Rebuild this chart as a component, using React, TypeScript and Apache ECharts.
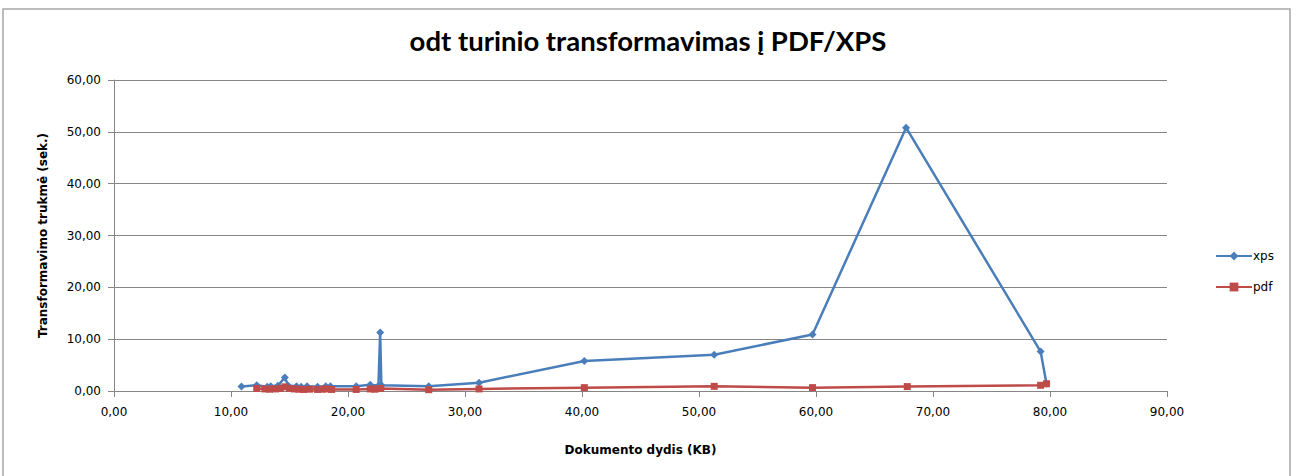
import React, { useEffect, useRef } from "react";
import * as echarts from "echarts";

const titleText = "odt turinio transformavimas į PDF/XPS";
const xAxisName = "Dokumento dydis (KB)";
const yAxisName = "Transformavimo trukmė (sek.)";

const xpsSize = [10.9, 12.2, 13.1, 13.4, 14.0, 14.6, 14.9, 15.6, 16.0, 16.5, 17.4, 18.1, 18.5, 20.7, 21.9, 22.6, 22.75, 22.85, 26.9, 31.2, 40.2, 51.3, 59.7, 67.7, 79.2, 79.7];
const xpsTime = [0.85, 1.1, 0.8, 0.9, 1.0, 2.6, 1.0, 0.9, 0.8, 0.9, 0.8, 0.9, 0.9, 0.9, 1.2, 1.0, 11.3, 1.1, 0.9, 1.6, 5.8, 7.0, 10.9, 50.8, 7.6, 1.4];

const pdfSize = [12.2, 12.9, 13.3, 13.8, 14.2, 14.6, 15.0, 15.4, 15.8, 16.2, 16.7, 17.4, 17.8, 18.2, 18.6, 20.7, 21.9, 22.3, 22.8, 26.9, 31.2, 40.2, 51.3, 59.7, 67.8, 79.2, 79.7];
const pdfTime = [0.5, 0.4, 0.35, 0.4, 0.5, 0.8, 0.5, 0.4, 0.35, 0.3, 0.35, 0.3, 0.35, 0.4, 0.3, 0.3, 0.4, 0.35, 0.5, 0.25, 0.4, 0.65, 0.9, 0.65, 0.85, 1.1, 1.4];

const fmt = (v: number) => v.toFixed(2).replace(".", ",");

export default function App() {
  const ref = useRef<HTMLDivElement>(null);
  useEffect(() => {
    document.body.style.margin = "0";
    const chart = echarts.init(ref.current!, null, { renderer: "svg" });
    const axisColor = "#868686";
    const labelFont = "DejaVu Sans";
    chart.setOption({
      animation: false,
      backgroundColor: "#ffffff",
      title: {
        text: titleText,
        left: "center",
        top: 21,
        textStyle: { fontFamily: "Lato", fontWeight: "bold", fontSize: 27.5, color: "#000" },
      },
      graphic: [
        {
          type: "rect",
          shape: { x: 3, y: 9, width: 1287, height: 480 },
          style: { fill: "none", stroke: "#a6a6a6", lineWidth: 1.5 },
          silent: true,
          z: -1,
        },
      ],
      legend: {
        orient: "vertical",
        left: 1210,
        top: 245,
        itemWidth: 36,
        itemHeight: 11,
        itemGap: 19,
        textStyle: { fontFamily: labelFont, fontSize: 12, color: "#000", padding: [0, 0, 0, -4] },
        data: ["xps", "pdf"],
      },
      grid: { left: 114, right: 129, top: 80, bottom: 85 },
      xAxis: {
        type: "value",
        min: 0,
        max: 90,
        interval: 10,
        name: xAxisName,
        nameLocation: "middle",
        nameGap: 53,
        nameTextStyle: { fontFamily: labelFont, fontWeight: "bold", fontSize: 12, color: "#000" },
        axisLine: { show: true, onZero: false, lineStyle: { color: axisColor, width: 1 } },
        axisTick: { show: true, length: 6, lineStyle: { color: axisColor } },
        axisLabel: { formatter: fmt, fontFamily: labelFont, fontSize: 12, color: "#000", margin: 15 },
        splitLine: { show: false },
      },
      yAxis: {
        type: "value",
        min: 0,
        max: 60,
        interval: 10,
        name: yAxisName,
        nameLocation: "middle",
        nameGap: 65,
        nameTextStyle: { fontFamily: labelFont, fontWeight: "bold", fontSize: 12, color: "#000" },
        axisLine: { show: true, lineStyle: { color: axisColor, width: 1 } },
        axisTick: { show: true, length: 6, lineStyle: { color: axisColor } },
        axisLabel: { formatter: fmt, fontFamily: labelFont, fontSize: 12, color: "#000", margin: 13 },
        splitLine: { show: true, lineStyle: { color: axisColor, width: 1 } },
      },
      series: [
        {
          name: "xps",
          type: "line",
          data: xpsSize.map((x, i) => [x, xpsTime[i]]),
          symbol: "diamond",
          symbolSize: 8,
          lineStyle: { color: "#4A7EBB", width: 2.5 },
          itemStyle: { color: "#4A7EBB" },
          z: 2,
        },
        {
          name: "pdf",
          type: "line",
          data: pdfSize.map((x, i) => [x, pdfTime[i]]),
          symbol: "rect",
          symbolSize: 7,
          lineStyle: { color: "#BE4B48", width: 2.5 },
          itemStyle: { color: "#BE4B48" },
          z: 3,
        },
      ],
    });
    return () => chart.dispose();
  }, []);
  return <div ref={ref} style={{ width: 1296, height: 476 }} />;
}
